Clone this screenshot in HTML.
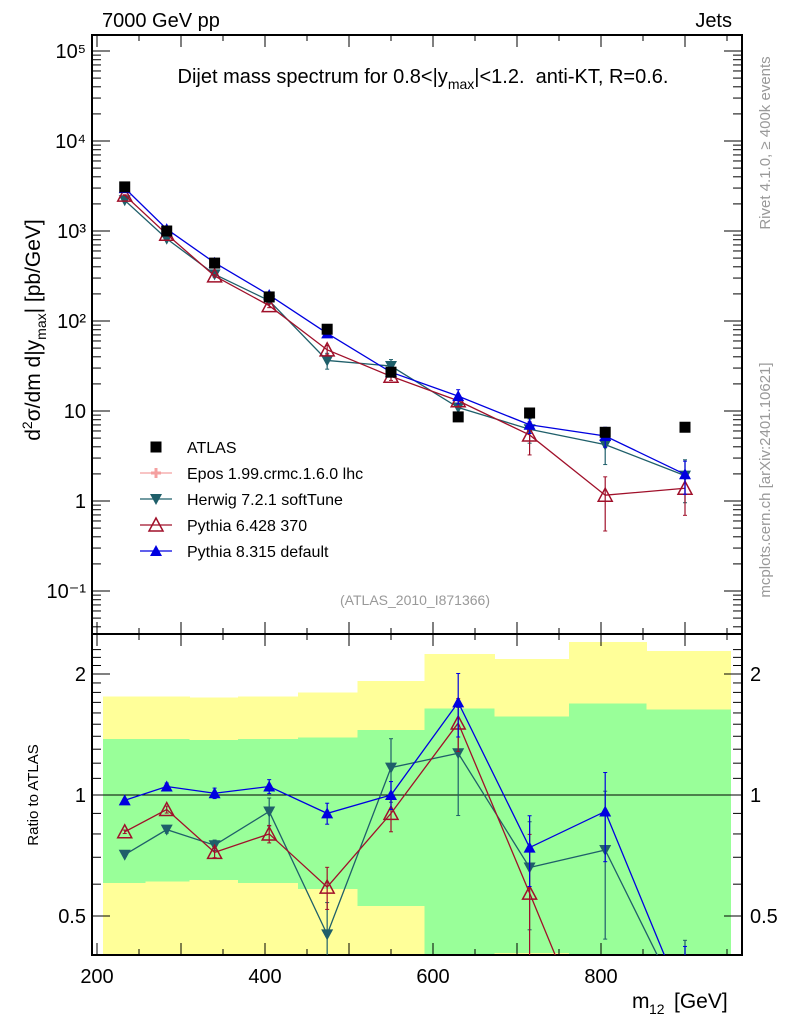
<!DOCTYPE html>
<html><head><meta charset="utf-8"><style>
html,body{margin:0;padding:0;background:#fff;width:786px;height:1024px;overflow:hidden;}
svg{font-family:"Liberation Sans",sans-serif;display:block;}
</style></head><body>
<svg id="c" width="786" height="1024" xmlns="http://www.w3.org/2000/svg"></svg>
<script>
const masses=[233,283,340,405,474,550,630,715,805,900];
const atlas=[3090,1000,440,185,81,27,8.6,9.5,5.8,6.6];
const herwigRatio=[0.71,0.82,0.75,0.91,0.45,1.17,1.27,0.66,0.73,0.29];
const pythia6Ratio=[0.81,0.92,0.72,0.80,0.59,0.90,1.51,0.57,0.20,0.21];
const pythia8Ratio=[0.97,1.05,1.01,1.05,0.90,1.00,1.70,0.74,0.91,0.30];
const herwigErr=[0.01,0.02,0.03,0.08,0.2,0.18,0.3,0.3,0.4,0.5];
const pythia6Err=[0.01,0.02,0.03,0.05,0.12,0.1,0.15,0.4,0.6,0.5];
const pythia8Err=[0.01,0.02,0.03,0.04,0.06,0.08,0.18,0.2,0.25,0.4];
const binEdges=[207,258,310,368,439,510,590,673,762,854,954];
const yellowHi=[1.76,1.76,1.75,1.76,1.80,1.92,2.24,2.18,2.40,2.28];
const yellowLo=[0.25,0.25,0.25,0.25,0.25,0.25,0.25,0.25,0.25,0.25];
const greenHi=[1.38,1.38,1.37,1.38,1.39,1.45,1.64,1.57,1.69,1.63];
const greenLo=[0.604,0.61,0.615,0.604,0.584,0.53,0.25,0.405,0.25,0.25];
const mainTicks=["10\u207B\u00B9","1","10","10\u00B2","10\u00B3","10\u2074","10\u2075"];
const xTicks=[200,400,600,800];

const L=92,R=742,T=35,M=634,B=955;
const X=m=>97+(m-200)*0.84;
const Y=v=>501-90*Math.log10(v);
const YR=r=>795-121*Math.log2(r);
const svg=document.getElementById('c');
const NS='http://www.w3.org/2000/svg';
function el(tag,attrs,parent){const e=document.createElementNS(NS,tag);for(const k in attrs)e.setAttribute(k,attrs[k]);(parent||svg).appendChild(e);return e;}
function txt(s,x,y,attrs){const e=el('text',Object.assign({x:x,y:y,'font-size':19},attrs||{}));e.textContent=s;return e;}

const defs=el('defs',{});
const cp1=el('clipPath',{id:'cm'},defs);el('rect',{x:L,y:T,width:R-L,height:M-T},cp1);
const cp2=el('clipPath',{id:'cr'},defs);el('rect',{x:L,y:M,width:R-L,height:B-M},cp2);

const gR=el('g',{'clip-path':'url(#cr)','shape-rendering':'crispEdges'});


for(let i=0;i<yellowHi.length;i++){
  const x0=X(binEdges[i]),x1=X(binEdges[i+1]);
  const y=el('rect',{x:x0,y:YR(yellowHi[i]),width:x1-x0+0.5,height:YR(yellowLo[i])-YR(yellowHi[i]),fill:'#ffff99'},gR);
  
  
  const g=el('rect',{x:x0,y:YR(greenHi[i]),width:x1-x0+0.5,height:YR(greenLo[i])-YR(greenHi[i]),fill:'#99ff99'},gR);
  
  
}
el('line',{x1:L,x2:R,y1:YR(1),y2:YR(1),stroke:'#000','stroke-width':1.3},gR);

el('rect',{x:L,y:T,width:R-L,height:M-T,fill:'none',stroke:'#000','stroke-width':2});
el('rect',{x:L,y:M,width:R-L,height:B-M,fill:'none',stroke:'#000','stroke-width':2});

for(let m=200;m<=960;m+=50){
  const x=X(m);if(x<L||x>R)continue;
  const len=(m%100===0)?12:6;
  el('line',{x1:x,x2:x,y1:T,y2:T+len,stroke:'#000'});
  el('line',{x1:x,x2:x,y1:M,y2:M-len,stroke:'#000'});
  el('line',{x1:x,x2:x,y1:M,y2:M+len,stroke:'#000'});
  el('line',{x1:x,x2:x,y1:B,y2:B-len,stroke:'#000'});
}
xTicks.forEach(m=>{const t=txt(String(m),X(m),983,{'text-anchor':'middle','font-size':20});

});
txt('m',632,1008,{'font-size':21});txt('12',649,1014,{'font-size':14});txt('[GeV]',674,1008,{'font-size':21});

for(let d=-2;d<=5;d++){for(let k=1;k<10;k++){const v=k*Math.pow(10,d);const y=Y(v);if(y<T||y>M)continue;const len=k===1?18:9;
el('line',{x1:L,x2:L+len,y1:y,y2:y,stroke:'#000'});el('line',{x1:R,x2:R-len,y1:y,y2:y,stroke:'#000'});}}
mainTicks.forEach((s,i)=>{const v=Math.pow(10,i-1);const t=txt(s,86,Y(v)+7,{'text-anchor':'end','font-size':20});

});

[0.4,0.5,0.6,0.7,0.8,0.9,1,1.1,1.2,1.3,1.4,1.5,1.6,1.7,1.8,1.9,2,2.1,2.2,2.3].forEach(r=>{const y=YR(r);if(y<M||y>B)return;const len=(r===0.5||r===1||r===2)?18:9;
el('line',{x1:L,x2:L+len,y1:y,y2:y,stroke:'#000'});el('line',{x1:R,x2:R-len,y1:y,y2:y,stroke:'#000'});});
[['0.5',0.5],['1',1],['2',2]].forEach(([s,r])=>{txt(s,86,YR(r)+7,{'text-anchor':'end','font-size':20});txt(s,750,YR(r)+7,{'font-size':20});});

txt('7000 GeV pp',102,27,{'font-size':20});
txt('Jets',732,27,{'font-size':20,'text-anchor':'end'});
const tt=txt('',423,83,{'text-anchor':'middle','font-size':20});
tt.innerHTML='Dijet mass spectrum for 0.8&lt;|y<tspan font-size="14" dy="6">max</tspan><tspan dy="-6">|&lt;1.2.&#160; anti-KT, R=0.6.</tspan>';
const yl=el('text',{transform:'translate(40,330) rotate(-90)','text-anchor':'middle','font-size':21});
yl.innerHTML='d<tspan font-size="14" dy="-8">2</tspan><tspan dy="8">σ/dm d|y</tspan><tspan font-size="14" dy="6">max</tspan><tspan dy="-6">| [pb/GeV]</tspan>';
const rl=el('text',{transform:'translate(38,795) rotate(-90)','text-anchor':'middle','font-size':15});rl.textContent='Ratio to ATLAS';
txt('(ATLAS_2010_I871366)',415,605,{'text-anchor':'middle','font-size':14,fill:'#999'});
el('text',{transform:'translate(770,143) rotate(-90)','text-anchor':'middle','font-size':15,fill:'#999'}).textContent='Rivet 4.1.0, ≥ 400k events';
el('text',{transform:'translate(770,480) rotate(-90)','text-anchor':'middle','font-size':15,fill:'#999'}).textContent='mcplots.cern.ch [arXiv:2401.10621]';

function marker(g,type,x,y,col){
  if(type==='sq')el('rect',{x:x-5.5,y:y-5.5,width:11,height:11,fill:col},g);
  else if(type==='down')el('polygon',{points:`${x-6},${y-5} ${x+6},${y-5} ${x},${y+6}`,fill:col},g);
  else if(type==='up')el('polygon',{points:`${x-6},${y+5} ${x+6},${y+5} ${x},${y-6}`,fill:col},g);
  else if(type==='upo')el('polygon',{points:`${x-7},${y+6} ${x+7},${y+6} ${x},${y-7}`,fill:'none',stroke:col,'stroke-width':1.5},g);
  else if(type==='cross'){el('path',{d:`M${x-5} ${y}H${x+5}M${x} ${y-5}V${y+5}`,stroke:col,'stroke-width':3},g);}
}
const series=[
 {name:'herwig',col:'#1f5f6a',m:'down',r:herwigRatio,e:herwigErr},
 {name:'pythia6',col:'#a0102a',m:'upo',r:pythia6Ratio,e:pythia6Err},
 {name:'pythia8',col:'#0000e0',m:'up',r:pythia8Ratio,e:pythia8Err}];
const gm=el('g',{'clip-path':'url(#cm)'});
const gr=el('g',{'clip-path':'url(#cr)'});
series.forEach(s=>{
  const main=s.r.map((r,i)=>r*atlas[i]);
  const g1=el('g',{},gm);
  const g2=el('g',{},gr);
  el('polyline',{points:masses.map((m,i)=>X(m)+','+Y(main[i])).join(' '),fill:'none',stroke:s.col,'stroke-width':1.3},g1);
  el('polyline',{points:masses.map((m,i)=>X(m)+','+YR(s.r[i])).join(' '),fill:'none',stroke:s.col,'stroke-width':1.3},g2);
  masses.forEach((m,i)=>{
    const x=X(m);
    [[g1,Y,main[i]],[g2,YR,s.r[i]]].forEach(([g,f,v])=>{
      const lo=Math.max(v*(1-s.e[i]),1e-3),hi=v*(1+s.e[i]);
      el('line',{x1:x,x2:x,y1:f(lo),y2:f(hi),stroke:s.col,'stroke-width':1.2},g);
      el('line',{x1:x-2,x2:x+2,y1:f(lo),y2:f(lo),stroke:s.col},g);
      el('line',{x1:x-2,x2:x+2,y1:f(hi),y2:f(hi),stroke:s.col},g);
      marker(g,s.m,x,f(v),s.col);
    });
  });
});
const ga=el('g',{},gm);
masses.forEach((m,i)=>marker(ga,'sq',X(m),Y(atlas[i]),'#000'));

const leg=[['ATLAS','sq','#000'],['Epos 1.99.crmc.1.6.0 lhc','cross','#f4a0a0'],['Herwig 7.2.1 softTune','down','#1f5f6a'],['Pythia 6.428 370','upo','#a0102a'],['Pythia 8.315 default','up','#0000e0']];
leg.forEach((l,i)=>{const y=447+i*26;const g=el('g',{});


if(i>0)el('line',{x1:140,x2:172,y1:y,y2:y,stroke:l[2],'stroke-width':1.3},g);
marker(g,l[1],156,y,l[2]);
const t=el('text',{x:187,y:y+6,'font-size':16},g);t.textContent=l[0];});
</script>
</body></html>
